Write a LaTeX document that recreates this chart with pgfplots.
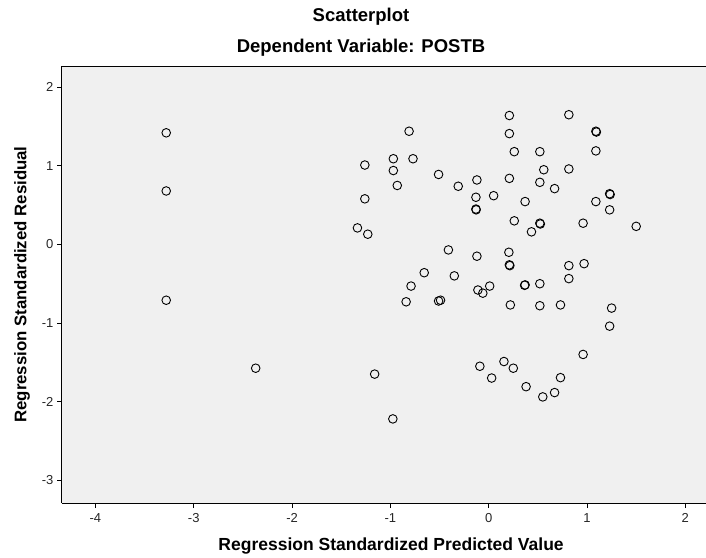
\documentclass[border=0pt]{standalone}
\usepackage{fontspec}
\setmainfont{Liberation Sans}
\usepackage{pgfplots}
\pgfplotsset{compat=1.18}
\definecolor{plotbg}{HTML}{F0F0F0}

\begin{document}
\begin{tikzpicture}[x=1pt,y=1pt]
\useasboundingbox (-62,-54) rectangle (644,503);
\begin{axis}[
  at={(0,0)}, anchor=south west,
  scale only axis, width=644pt, height=437pt,
  xmin=-4.34, xmax=2.21, ymin=-3.29, ymax=2.27,
  axis x line*=bottom, axis y line*=left,
  xtick={-4,-3,-2,-1,0,1,2}, ytick={-3,-2,-1,0,1,2},
  tick align=outside,
  major tick length=5pt,
  tick style={black, line width=0.9pt},
  axis background/.style={fill=plotbg},
  axis line style={black, line width=1pt, -},
  /pgf/number format/assume math mode=true,
  tick label style={font=\fontsize{13}{15}\selectfont, text=black!85},
  xticklabel style={yshift=-2pt},
  xlabel={Regression Standardized Predicted Value},
  ylabel={Regression Standardized Residual},
  every axis x label/.style={at={(rel axis cs:0.511,0)}, yshift=-43pt, anchor=center,
    font=\bfseries\fontsize{17.5}{20}\selectfont},
  every axis y label/.style={at={(rel axis cs:0,0.5)}, xshift=-40pt, rotate=90, anchor=center,
    font=\bfseries\fontsize{16.8}{19}\selectfont},
]
\addplot[only marks, mark=o, mark size=4.3pt, black, line width=0.9pt] table {
x y
-3.28 1.42
-3.28 0.68
-3.28 -0.71
-2.37 -1.575
-1.16 -1.65
-0.975 -2.22
-1.335 0.21
-1.23 0.13
-1.26 1.01
-1.26 0.58
-0.97 1.09
-0.97 0.94
-0.93 0.75
-0.81 1.44
-0.77 1.09
-0.51 0.89
-0.31 0.74
-0.12 0.82
-0.13 0.60
-0.13 0.45
-0.128 0.44
0.05 0.62
0.21 1.64
0.21 1.41
0.26 1.18
0.21 0.84
0.26 0.30
0.205 -0.10
0.21 -0.26
0.215 -0.27
0.815 1.65
1.09 1.44
1.095 1.43
0.52 1.18
1.09 1.19
0.56 0.95
0.815 0.96
0.52 0.79
0.67 0.71
0.37 0.545
1.09 0.545
1.23 0.645
1.235 0.635
1.23 0.44
0.52 0.27
0.525 0.26
0.435 0.16
0.96 0.27
1.50 0.23
-0.41 -0.07
-0.12 -0.15
0.815 -0.27
0.97 -0.245
-0.656 -0.36
-0.35 -0.40
-0.79 -0.53
-0.84 -0.73
-0.51 -0.72
-0.49 -0.71
-0.11 -0.58
-0.06 -0.62
0.01 -0.53
0.365 -0.52
0.37 -0.515
0.52 -0.50
0.815 -0.435
0.22 -0.77
0.52 -0.78
0.73 -0.77
1.25 -0.81
1.23 -1.04
0.96 -1.40
-0.09 -1.55
0.155 -1.49
0.25 -1.575
0.03 -1.70
0.38 -1.81
0.55 -1.94
0.67 -1.885
0.73 -1.695
};
\draw[black, line width=1pt] (rel axis cs:0,1) -- (rel axis cs:1,1);
\end{axis}
\node[font=\bfseries\fontsize{18.5}{21}\selectfont] at (299,486) {Scatterplot};
\node[font=\bfseries\fontsize{18.5}{21}\selectfont] at (299,455) {Dependent Variable: POSTB};
\end{tikzpicture}
\end{document}
